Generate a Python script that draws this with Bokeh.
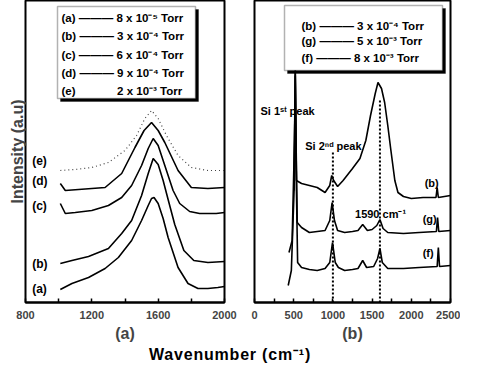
from bokeh.plotting import figure
from bokeh.models import Range1d, FixedTicker, Title, Div, BoxAnnotation
from bokeh.layouts import row, column
from bokeh.embed import file_html
from bokeh.resources import INLINE
from bokeh.core.properties import value

FONT = "Liberation Sans"

# ---------------- panel (a) data ----------------
wn_a = [1010, 1080, 1180, 1280, 1360, 1440, 1500, 1540, 1560, 1575, 1600, 1630, 1660, 1720, 1780, 1840, 1900, 1960, 2000]
int_a = [13, 19, 25, 34, 45, 62, 82, 97, 104, 105, 99, 84, 65, 35, 19, 14, 14, 15, 16]

wn_b = [1010, 1080, 1180, 1300, 1380, 1440, 1500, 1540, 1570, 1600, 1630, 1660, 1700, 1755, 1815, 1900, 2000]
int_b = [39, 42, 46, 54, 69, 82, 107, 129, 144, 138, 122, 103, 78, 52, 42, 40, 41]

wn_c = [1010, 1040, 1100, 1200, 1300, 1380, 1440, 1500, 1540, 1570, 1600, 1640, 1690, 1730, 1790, 1850, 1950, 2000]
int_c = [99, 89, 90, 92, 97, 105, 117, 137, 154, 164, 157, 137, 112, 99, 91, 89, 89, 90]

wn_d = [1010, 1040, 1120, 1200, 1280, 1380, 1460, 1515, 1560, 1600, 1640, 1720, 1800, 1900, 2000]
int_d = [119, 112, 113, 114, 115, 129, 155, 172, 180, 172, 160, 132, 115, 114, 115]

wn_e = [1010, 1100, 1200, 1300, 1400, 1470, 1520, 1560, 1600, 1650, 1720, 1800, 1900, 2000]
int_e = [132, 133, 135, 140, 152, 167, 184, 192, 184, 167, 147, 135, 132, 132]

legend_a = ["(a) \u2014\u2014\u2014 8 x 10\u207b\u2075 Torr",
            "(b) \u2014\u2014\u2014 3 x 10\u207b\u2074 Torr",
            "(c) \u2014\u2014\u2014 6 x 10\u207b\u2074 Torr",
            "(d) \u2014\u2014\u2014 9 x 10\u207b\u2074 Torr",
            "(e) \u00a0\u00a0\u00a0\u00a0\u00a0\u00a0\u00a0\u00a0\u00a0\u00a0\u00a0 2 x 10\u207b\u00b3 Torr"]
lab_a_text = ["(e)", "(d)", "(c)", "(b)", "(a)"]
lab_a_x = [840, 840, 840, 840, 840]
lab_a_y = [142, 122, 97, 39, 14]

ticks_a = [800, 1200, 1600, 2000]
minor_a = [1000, 1400, 1800]

# ---------------- panel (b) data ----------------
wn_rb = [505, 520, 535, 600, 700, 800, 900, 960, 985, 1010, 1060, 1130, 1250, 1345, 1420, 1480, 1540, 1575,
         1620, 1660, 1700, 1740, 1790, 1830, 1900, 2000, 2150, 2315, 2330, 2345, 2500]
int_rb = [112, 232, 122, 119, 117, 115, 110, 117, 127, 122, 116, 122, 134, 144, 162, 187, 209, 220,
          214, 200, 177, 152, 122, 110, 106, 104, 105, 105, 115, 105, 107]

wn_rg = [440, 480, 510, 520, 530, 545, 600, 700, 800, 900, 960, 990, 1020, 1060, 1150, 1250, 1320, 1380,
         1440, 1500, 1560, 1600, 1640, 1700, 1900, 2100, 2320, 2335, 2350, 2500]
int_rg = [50, 62, 162, 230, 162, 80, 75, 70, 71, 72, 82, 100, 82, 72, 70, 71, 72, 78,
          72, 73, 77, 83, 74, 70, 69, 70, 71, 85, 71, 72]

wn_rf = [430, 470, 505, 520, 535, 550, 600, 700, 800, 900, 960, 995, 1030, 1070, 1150, 1250, 1320, 1380,
         1430, 1520, 1570, 1600, 1630, 1700, 1900, 2100, 2330, 2345, 2360, 2500]
int_rf = [17, 32, 112, 227, 112, 40, 35, 33, 32, 34, 40, 60, 40, 35, 32, 33, 34, 42,
          35, 36, 44, 54, 40, 34, 34, 35, 36, 55, 36, 37]

peak_x = [1000, 1600]
peak_top = [150, 202]

legend_b = ["(b) \u2014\u2014\u2014 3 x 10\u207b\u2074 Torr",
            "(g) \u2014\u2014\u2014 5 x 10\u207b\u00b3 Torr",
            "(f) \u2014\u2014\u2014 8 x 10\u207b\u00b3 Torr"]
lab_b_text = ["Si 1\u02e2\u1d57 peak", "Si 2\u207f\u1d48 peak", "1590 cm\u207b\u00b9", "(b)", "(g)", "(f)"]
lab_b_x = [76, 647, 1282, 2170, 2145, 2145]
lab_b_y = [192, 157, 89, 120, 84, 50]

ticks_b = [0, 500, 1000, 1500, 2000, 2500]
minor_b = [250, 750, 1250, 1750, 2250]

H = 346
BOTTOM = 44
Y_MAX = H - BOTTOM  # one data unit per pixel
XR_A = (800, 2000)
XR_B = (0, 2500)
FW_A = 199
FW_B = 196


def make_fig(width, xr, ticks, minor, min_left, min_right, label):
    p = figure(width=width, height=H, x_range=Range1d(*xr), y_range=Range1d(0, Y_MAX),
               output_backend="svg", toolbar_location=None, y_axis_location=None,
               min_border_left=min_left, min_border_right=min_right,
               min_border_top=0, min_border_bottom=BOTTOM)
    p.grid.visible = False
    p.outline_line_color = "black"
    p.outline_line_width = 2
    p.background_fill_color = "white"
    p.border_fill_color = "white"
    ax = p.xaxis[0]
    ax.ticker = FixedTicker(ticks=ticks, minor_ticks=minor)
    ax.axis_line_width = 2
    ax.major_tick_in = 4
    ax.major_tick_out = 0
    ax.minor_tick_in = 4
    ax.minor_tick_out = 0
    ax.major_tick_line_width = 1.5
    ax.minor_tick_line_width = 1.5
    ax.major_label_text_font = FONT
    ax.major_label_text_font_style = "bold"
    ax.major_label_text_font_size = "11px"
    ax.major_label_standoff = 8
    ax.axis_label = label
    ax.axis_label_text_font = FONT
    ax.axis_label_text_font_style = "bold"
    ax.axis_label_text_font_size = "16px"
    ax.axis_label_standoff = 3
    return p


def fx(xr, fw, px):
    """frame-relative pixel -> data x"""
    return xr[0] + px * (xr[1] - xr[0]) / fw


def fy(py):
    """frame-relative pixel from top -> data y"""
    return Y_MAX - py


def legend_box(p, xr, fw, x0, y0, x1, y1, texts, tx, rows_y):
    # shadow, then white box with border (both beneath the glyphs)
    p.add_layout(BoxAnnotation(left=fx(xr, fw, x0 + 3), right=fx(xr, fw, x1 + 3),
                               top=fy(y0 + 3), bottom=fy(y1 + 3), fill_color="black",
                               fill_alpha=1, line_color="black", level="underlay"))
    p.add_layout(BoxAnnotation(left=fx(xr, fw, x0), right=fx(xr, fw, x1),
                               top=fy(y0), bottom=fy(y1), fill_color="white",
                               fill_alpha=1, line_color="black", line_width=1.5,
                               level="underlay"))
    p.text(x=[fx(xr, fw, tx)] * len(texts), y=[fy(r) for r in rows_y], text=texts,
           text_font=value(FONT), text_font_style="bold", text_font_size="11.5px",
           text_baseline="middle", text_align="left", text_color="black")


lw = 1.6

# ---------- left panel ----------
p1 = make_fig(237, XR_A, ticks_a, minor_a, 25, 13, "(a)")
p1.add_layout(Title(text="Intensity (a.u)", align="center", text_font=FONT,
                    text_font_style="bold", text_font_size="16px", offset=0, standoff=0), "left")

legend_box(p1, XR_A, FW_A, 32, 6, 170, 98, legend_a, 36, [17, 35, 54, 72, 90])

p1.line(wn_a, int_a, line_color="black", line_width=lw)
p1.line(wn_b, int_b, line_color="black", line_width=lw)
p1.line(wn_c, int_c, line_color="black", line_width=lw)
p1.line(wn_d, int_d, line_color="black", line_width=lw)
p1.line(wn_e, int_e, line_color="#444444", line_width=1.2, line_dash="1 3")
p1.text(x=lab_a_x, y=lab_a_y, text=lab_a_text, text_font=value(FONT), text_font_style="bold",
        text_font_size="12px", text_baseline="middle", text_align="left", text_color="black")

# ---------- right panel ----------
p2 = make_fig(223, XR_B, ticks_b, minor_b, 17, 10, "(b)")
legend_box(p2, XR_B, FW_B, 30, 5, 188, 70, legend_b, 47, [25, 40, 57])

p2.line(wn_rb, int_rb, line_color="black", line_width=lw)
p2.line(wn_rg, int_rg, line_color="black", line_width=lw)
p2.line(wn_rf, int_rf, line_color="black", line_width=lw)
p2.segment(x0=peak_x, y0=[0, 0], x1=peak_x, y1=peak_top, line_color="black", line_width=2,
           line_dash="2 2")
p2.text(x=lab_b_x, y=lab_b_y, text=lab_b_text, text_font=value(FONT), text_font_style="bold",
        text_font_size="11px", text_baseline="middle", text_align="left", text_color="black")

div = Div(text='<div style="width:460px;height:17px;overflow:hidden;text-align:center;'
               'font-family:\'Liberation Sans\';font-weight:bold;font-size:16px;'
               'letter-spacing:0.8px;line-height:17px;">Wavenumber (cm\u207b\u00b9)</div>',
          width=460, height=17, margin=0)

layout = column(row(p1, p2, spacing=0), div, spacing=0)

with open("out.html", "w") as f:
    f.write(file_html(layout, INLINE))
